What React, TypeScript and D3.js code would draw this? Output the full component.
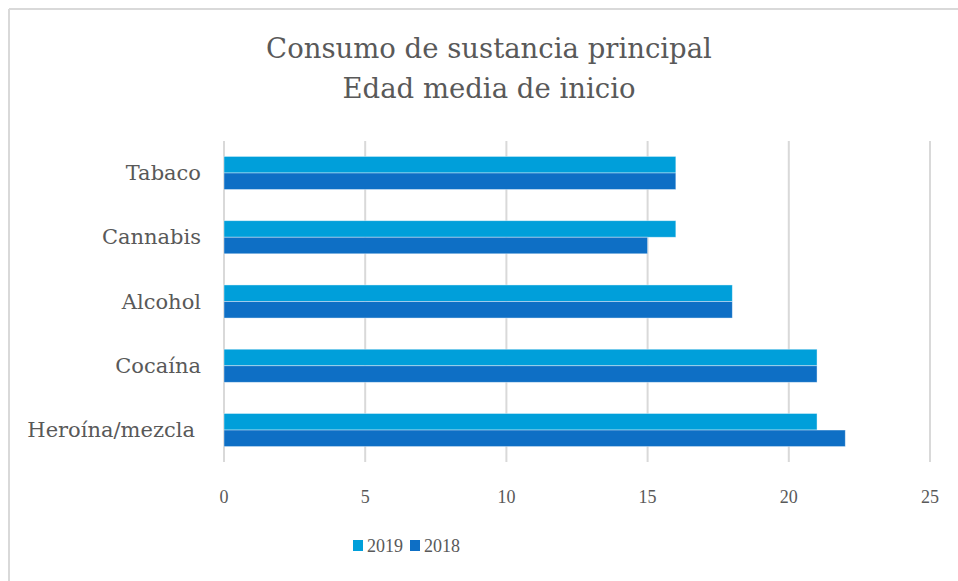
import React from "react";
import * as d3 from "d3";

const categories = ["Tabaco", "Cannabis", "Alcohol", "Cocaína", "Heroína/mezcla"];
const seriesNames = ["2019", "2018"];
const values2019 = [16, 16, 18, 21, 21];
const values2018 = [16, 15, 18, 21, 22];
const xTicks = [0, 5, 10, 15, 20, 25];
const titleLines = ["Consumo de sustancia principal", "Edad media de inicio"];
const colors = ["#009FDA", "#0E6FC5"];

const W = 958;
const H = 581;
const FONT = "'DejaVu Serif', serif";
const NUMFONT = "'Liberation Serif', serif";

export default function App() {
  const x = d3.scaleLinear().domain([0, 25]).range([224, 930]);
  const y = d3.scaleBand<string>().domain(categories).range([141, 462]).paddingInner(0.485).paddingOuter(0.24);
  const sub = d3.scaleBand<string>().domain(seriesNames).range([0, y.bandwidth()]);
  const data = [values2019, values2018];
  return (
    <svg width={W} height={H} style={{ position: "absolute", left: 0, top: 0 }} fontFamily={FONT}>
      <rect x={0} y={0} width={W} height={H} fill="#fff" />
      <line x1={9} y1={9} x2={W} y2={9} stroke="#d9d9d9" strokeWidth={2} />
      <line x1={9} y1={9} x2={9} y2={H} stroke="#d9d9d9" strokeWidth={2} />
      {titleLines.map((t, i) => (
        <text key={t} x={489} y={58 + i * 40} textAnchor="middle" fontSize={27.5} fill="#595959">
          {t}
        </text>
      ))}
      {xTicks.map((t) => (
        <g key={t}>
          <line x1={x(t)} x2={x(t)} y1={141} y2={462} stroke="#d9d9d9" strokeWidth={2} />
          <text x={x(t)} y={503} textAnchor="middle" fontSize={18} fill="#595959" fontFamily={NUMFONT}>
            {t}
          </text>
        </g>
      ))}
      {categories.map((c, ci) => (
        <g key={c}>
          <text
            x={ci === categories.length - 1 ? 195 : 201}
            y={(y(c) as number) + y.bandwidth() / 2 + 7}
            textAnchor="end"
            fontSize={21}
            fill="#595959"
          >
            {c}
          </text>
          {seriesNames.map((s, si) => (
            <rect
              key={s}
              x={x(0)}
              y={(y(c) as number) + (sub(s) as number)}
              width={x(data[si][ci]) - x(0)}
              height={sub.bandwidth()}
              fill={colors[si]}
              stroke="#ffffff"
              strokeOpacity={0.5}
              strokeWidth={0.8}
            />
          ))}
        </g>
      ))}
      {seriesNames.map((s, si) => (
        <g key={s} transform={`translate(${353 + si * 57},540)`}>
          <rect x={0} y={0} width={10} height={11} fill={colors[si]} />
          <text x={14} y={12} fontSize={18} fill="#595959" fontFamily={NUMFONT}>
            {s}
          </text>
        </g>
      ))}
    </svg>
  );
}
